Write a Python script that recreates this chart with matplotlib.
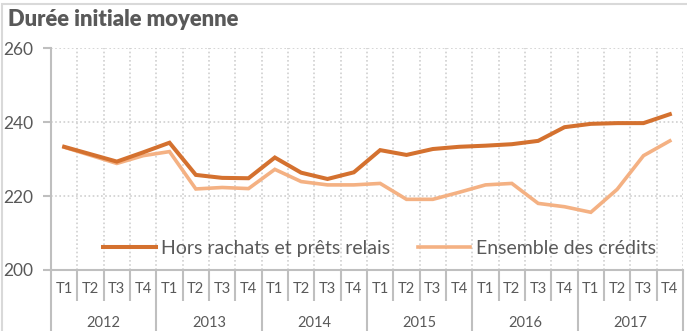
import matplotlib
matplotlib.use("Agg")
import matplotlib.pyplot as plt
import matplotlib.transforms as mtransforms
from matplotlib.patches import Rectangle

plt.rcParams['font.family'] = ['Lato', 'DejaVu Sans']

# --- Données : durée initiale moyenne (mois), trimestres 2012-2017 ---
annees = ["2012", "2013", "2014", "2015", "2016", "2017"]
trimestres = ["T1", "T2", "T3", "T4"]
hors_rachats = [233.3, 231.3, 229.3, 231.8, 234.4, 225.7, 224.9, 224.8,
                230.4, 226.3, 224.6, 226.4, 232.4, 231.1, 232.7, 233.3,
                233.6, 234.0, 234.9, 238.6, 239.5, 239.7, 239.7, 242.1]
ensemble = [233.2, 231.0, 228.8, 230.9, 232.0, 221.9, 222.3, 222.0,
            227.2, 223.9, 223.0, 223.0, 223.4, 219.1, 219.1, 221.0,
            223.0, 223.4, 218.0, 217.1, 215.6, 221.8, 230.9, 234.9]

GRIS_TEXTE = "#595959"
GRIS_AXE = "#bfbfbf"
GRIS_GRILLE = "#d0d0d0"
ORANGE_FONCE = "#d4712f"
ORANGE_CLAIR = "#f4b183"

fig = plt.figure(figsize=(6.87, 3.31), dpi=100)
ax = fig.add_axes([51 / 687, 61 / 331, 632 / 687, 222 / 331])

n = len(hors_rachats)
x = [i + 0.5 for i in range(n)]

ax.plot(x, ensemble, color=ORANGE_CLAIR, lw=2.6, solid_joinstyle="miter",
        label="Ensemble des crédits", zorder=3)
ax.plot(x, hors_rachats, color=ORANGE_FONCE, lw=2.9, solid_joinstyle="miter",
        label="Hors rachats et prêts relais", zorder=4)

ax.set_xlim(0, n)
ax.set_ylim(200, 260)
ax.set_yticks([200, 220, 240, 260])

# Grille pointillée : horizontale sur les valeurs, verticale entre trimestres
for v in [220, 240, 260]:
    ax.axhline(v, color=GRIS_GRILLE, lw=1.2, ls=(0, (1, 1.5)), zorder=1)
for b in range(1, n + 1):
    ax.axvline(b, color=GRIS_GRILLE, lw=1.2, ls=(0, (1, 1.5)), zorder=1)

for s in ["top", "right"]:
    ax.spines[s].set_visible(False)
for s in ["left", "bottom"]:
    ax.spines[s].set_color(GRIS_AXE)
    ax.spines[s].set_linewidth(1.5)

ax.tick_params(axis="y", colors=GRIS_AXE, labelcolor=GRIS_TEXTE,
               labelsize=12.5, length=6, width=1.5, pad=7)

# Axe des catégories à deux niveaux : trimestres puis années
ax.set_xticks(range(0, n + 1, 4))
ax.set_xticks(range(n + 1), minor=True)
ax.tick_params(axis="x", which="major", colors=GRIS_AXE, length=44,
               width=1.5, labelbottom=False)
ax.tick_params(axis="x", which="minor", colors=GRIS_AXE, length=22.5,
               width=1.5, labelbottom=False)

trans = mtransforms.blended_transform_factory(ax.transData, ax.transAxes)
for i in range(n):
    ax.text(i + 0.5, -0.086, trimestres[i % 4], transform=trans,
            ha="center", va="center", fontsize=10.5, color=GRIS_TEXTE)
for k, a in enumerate(annees):
    ax.text(4 * k + 2, -0.239, a, transform=trans,
            ha="center", va="center", fontsize=10.5, color=GRIS_TEXTE)

handles, labels = ax.get_legend_handles_labels()
leg = ax.legend(handles[::-1], labels[::-1], ncol=2, frameon=False,
                loc="center", bbox_to_anchor=(0.52, 0.099), fontsize=14,
                handlelength=2.7, handletextpad=0.3, columnspacing=1.4,
                borderaxespad=0)
for t in leg.get_texts():
    t.set_color(GRIS_TEXTE)

fig.text(8 / 687, 1 - 20 / 331, "Durée initiale moyenne", fontsize=15.8,
         fontweight="heavy", color=GRIS_TEXTE, ha="left", va="center")

# Cadre du graphique
fig.patches.append(Rectangle((2 / 687, -0.1), 1.2, 1 - 4 / 331 + 0.1,
                             transform=fig.transFigure, fill=False,
                             edgecolor="#d9d9d9", lw=1.5))

fig.savefig("out.png", dpi=100)
